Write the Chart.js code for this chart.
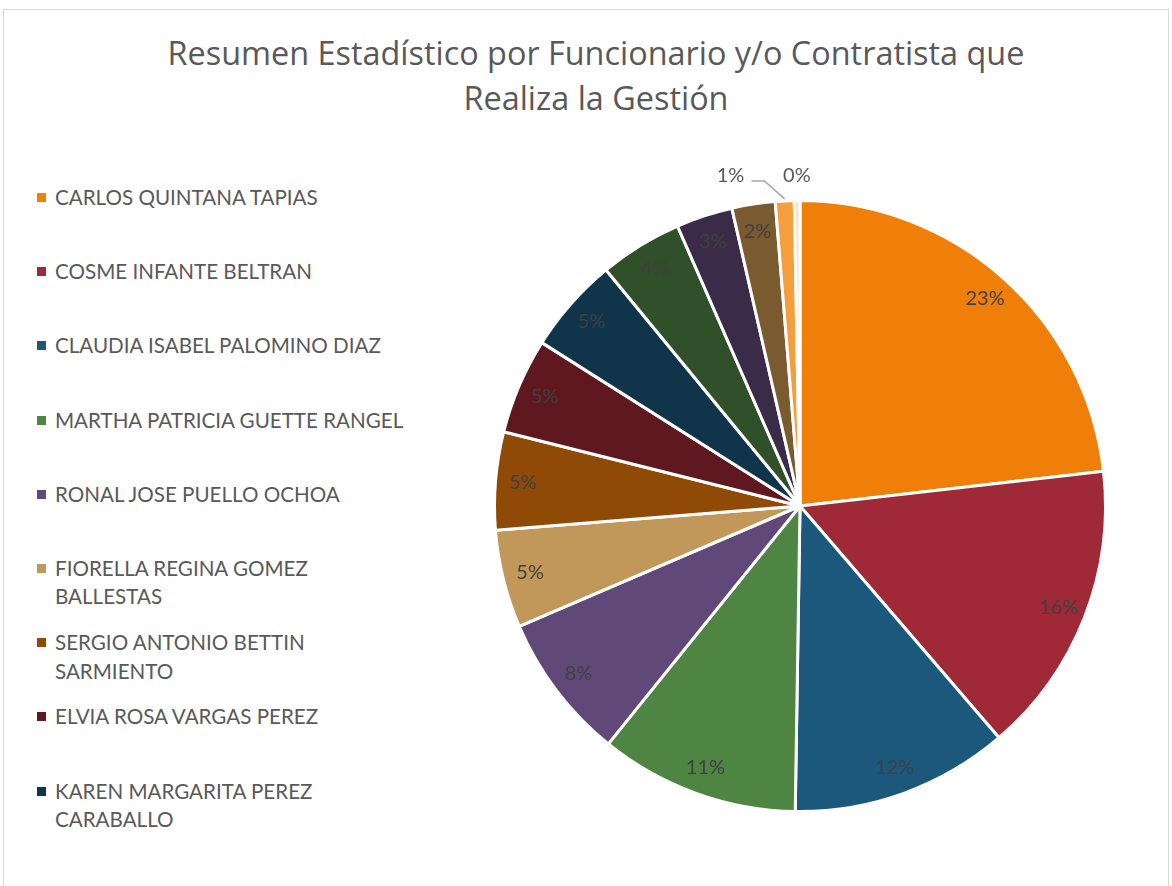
<!DOCTYPE html>
<html>
<head>
<meta charset="utf-8">
<script src="https://cdn.jsdelivr.net/npm/chart.js@4"></script>
<style>
    html, body { margin: 0; padding: 0; background: #fff; }
    body { width: 1172px; height: 886px; position: relative; overflow: hidden; font-family: Lato, "Open Sans", sans-serif; }
    .frame { position: absolute; left: 3px; top: 9px; width: 1166px; height: 900px; border: 1px solid #d9d9d9; box-sizing: border-box; }
    .title { position: absolute; left: 0; width: 1192px; top: 30px; text-align: center; color: #595959; font-family: "Open Sans", sans-serif; font-size: 32.4px; font-weight: 400; line-height: 45px; }
    #chart { position: absolute; left: 0; top: 0; }
    .legend { position: absolute; left: 33px; top: 183px; list-style: none; margin: 0; padding: 0; }
    .legend li { height: 74.2px; position: relative; padding-left: 22px; color: #595959; font-size: 20.6px; line-height: 28.5px; }
    .legend li span { position: absolute; left: 4px; top: 10px; width: 9px; height: 9px; }
</style>
</head>
<body>
<div class="frame"></div>
<div class="title">Resumen Estadístico por Funcionario y/o Contratista que<br>Realiza la Gestión</div>
<ul class="legend" id="legend"></ul>
<canvas id="chart" width="1172" height="886"></canvas>
<script>
    const names = [
        "CARLOS QUINTANA TAPIAS",
        "COSME INFANTE BELTRAN",
        "CLAUDIA ISABEL PALOMINO DIAZ",
        "MARTHA PATRICIA GUETTE RANGEL",
        "RONAL JOSE PUELLO OCHOA",
        ["FIORELLA REGINA GOMEZ", "BALLESTAS"],
        ["SERGIO ANTONIO BETTIN", "SARMIENTO"],
        "ELVIA ROSA VARGAS PEREZ",
        ["KAREN MARGARITA PEREZ", "CARABALLO"],
        "Funcionario 10",
        "Funcionario 11",
        "Funcionario 12",
        "Funcionario 13",
        "Funcionario 14"
    ];
    const gestiones = [233, 156, 116, 106, 78, 52, 52, 51, 51, 44, 30, 23, 10, 3];
    const colors = [
        "#f07f09", "#9f2936", "#1b587c", "#4e8542", "#604878",
        "#c19859", "#8f4a05", "#5f1820", "#10344a", "#2f5028",
        "#3a2b48", "#7a5b2f", "#f59e3c", "#fbe3c8"
    ];
    const legendCount = 9;

    const legendEl = document.getElementById("legend");
    names.slice(0, legendCount).forEach((name, i) => {
        const li = document.createElement("li");
        const box = document.createElement("span");
        box.style.background = colors[i];
        li.appendChild(box);
        const text = Array.isArray(name) ? name : [name];
        text.forEach((line, j) => {
            if (j > 0) {
                li.appendChild(document.createElement("br"));
            }
            li.appendChild(document.createTextNode(line));
        });
        legendEl.appendChild(li);
    });

    const percentLabels = {
        id: "percentLabels",
        afterDatasetsDraw(chart) {
            const ctx = chart.ctx;
            const meta = chart.getDatasetMeta(0);
            const data = chart.data.datasets[0].data;
            const total = data.reduce((a, b) => a + b, 0);

            ctx.save();
            ctx.font = "20px Lato, 'Open Sans', sans-serif";
            ctx.textAlign = "center";
            ctx.textBaseline = "middle";

            meta.data.forEach((arc, i) => {
                const p = arc.getProps(["x", "y", "startAngle", "endAngle", "outerRadius"], true);
                const mid = (p.startAngle + p.endAngle) / 2;
                const pct = data[i] / total * 100;
                const text = Math.round(pct) + "%";

                if (pct >= 1.5) {
                    const r = p.outerRadius * 0.91;
                    ctx.fillStyle = "#404040";
                    ctx.fillText(text, p.x + Math.cos(mid) * r, p.y + Math.sin(mid) * r);
                    return;
                }

                const r = p.outerRadius + 25;
                let lx = p.x + Math.cos(mid) * r;
                const ly = p.y + Math.sin(mid) * r;

                if (i < data.length - 1) {
                    // shift left to clear the next tiny slice's label
                    lx -= 53;
                    const ex = p.x + Math.cos(mid) * (p.outerRadius + 2);
                    const ey = p.y + Math.sin(mid) * (p.outerRadius + 2);
                    ctx.strokeStyle = "#a6a6a6";
                    ctx.lineWidth = 1.5;
                    ctx.beginPath();
                    ctx.moveTo(lx + 21, ly + 5);
                    ctx.lineTo(lx + 34, ly + 5);
                    ctx.lineTo(ex, ey);
                    ctx.stroke();
                }

                ctx.fillStyle = "#595959";
                ctx.fillText(text, lx, ly);
            });

            ctx.restore();
        }
    };

    new Chart(document.getElementById("chart"), {
        type: "pie",
        data: {
            labels: names,
            datasets: [{
                data: gestiones,
                backgroundColor: colors,
                borderColor: "#ffffff",
                borderWidth: 3
            }]
        },
        options: {
            responsive: false,
            animation: false,
            layout: {
                padding: { left: 493, right: 65, top: 199, bottom: 73 }
            },
            plugins: {
                legend: { display: false },
                title: { display: false },
                tooltip: { enabled: false }
            }
        },
        plugins: [percentLabels]
    });
</script>
</body>
</html>
